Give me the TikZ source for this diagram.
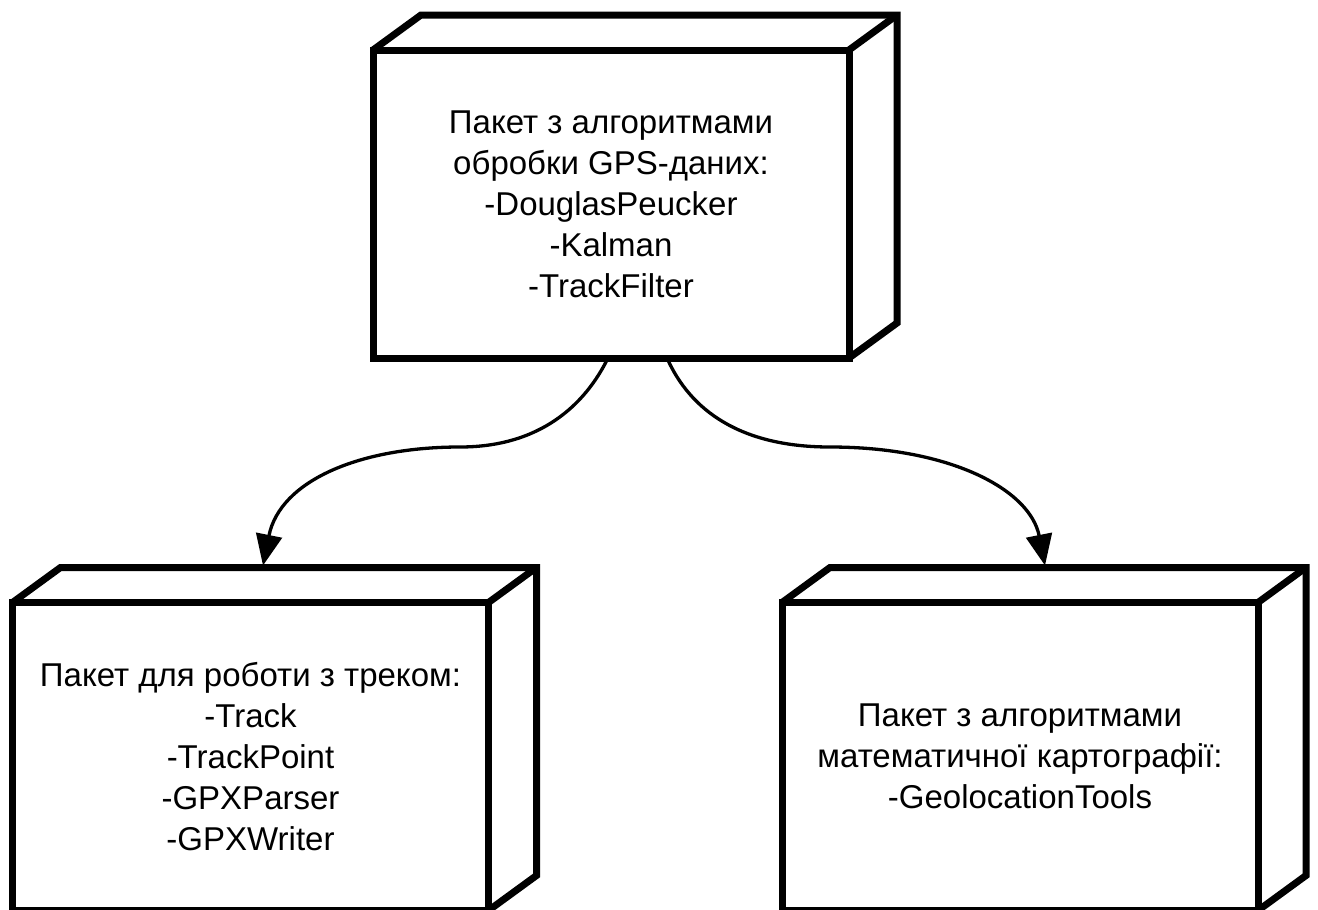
\documentclass[tikz,border=0pt]{standalone}
\usepackage{fontspec}
\setmainfont{Liberation Sans}
\usetikzlibrary{arrows.meta,calc}
\tikzset{
  pkg/.style={draw, line width=7pt, outer sep=0pt, inner sep=0pt,
    minimum width=476pt, minimum height=308pt, align=center,
    font=\fontsize{33}{41}\selectfont},
  rim/.style={draw, line width=7pt, line join=miter},
  dep/.style={draw, line width=3.3pt, -{Triangle[length=31pt,width=26pt]}}
}
% draws the depth (top and right faces) of a package box
\newcommand{\boxdepth}[1]{%
  \path[rim] (#1.north west) -- ++(48,-35) -- ($(#1.north east)+(48,-35)$)
    -- ($(#1.south east)+(48,-35)$) -- (#1.south east);
  \path[rim] (#1.north east) -- ++(48,-35);
}
\begin{document}
\begin{tikzpicture}[x=1pt,y=-1pt]
  \useasboundingbox (0,0) rectangle (1318,910);
  \clip (0,0) rectangle (1318,910);

  \node[pkg] (algo) at (611,204)
    {Пакет з алгоритмами\\обробки GPS-даних:\\-DouglasPeucker\\-Kalman\\-TrackFilter};
  \boxdepth{algo}

  \node[pkg] (track) at (250.5,756.5)
    {Пакет для роботи з треком:\\-Track\\-TrackPoint\\-GPXParser\\-GPXWriter};
  \boxdepth{track}

  \node[pkg] (carto) at (1020,756.5)
    {Пакет з алгоритмами\\математичної картографії:\\-GeolocationTools};
  \boxdepth{carto}

  % connector end points and waypoints
  \coordinate (lo) at ($(algo.south)+(-3,0)$);
  \coordinate (ro) at ($(algo.south)+(56,0)$);
  \coordinate (lmid) at (460,447);
  \coordinate (rmid) at (830,447);
  \coordinate (lend) at ($(track.north)+(12.5,-37)$);
  \coordinate (rend) at ($(carto.north)+(25,-37)$);

  \draw[dep] (lo) .. controls +(-23,47) and +(80,0) .. (lmid)
    .. controls +(-100,0) and +(17,-85) .. (lend);
  \draw[dep] (ro) .. controls +(23,52) and +(-90,0) .. (rmid)
    .. controls +(120,0) and +(-15,-76) .. (rend);
\end{tikzpicture}
\end{document}
